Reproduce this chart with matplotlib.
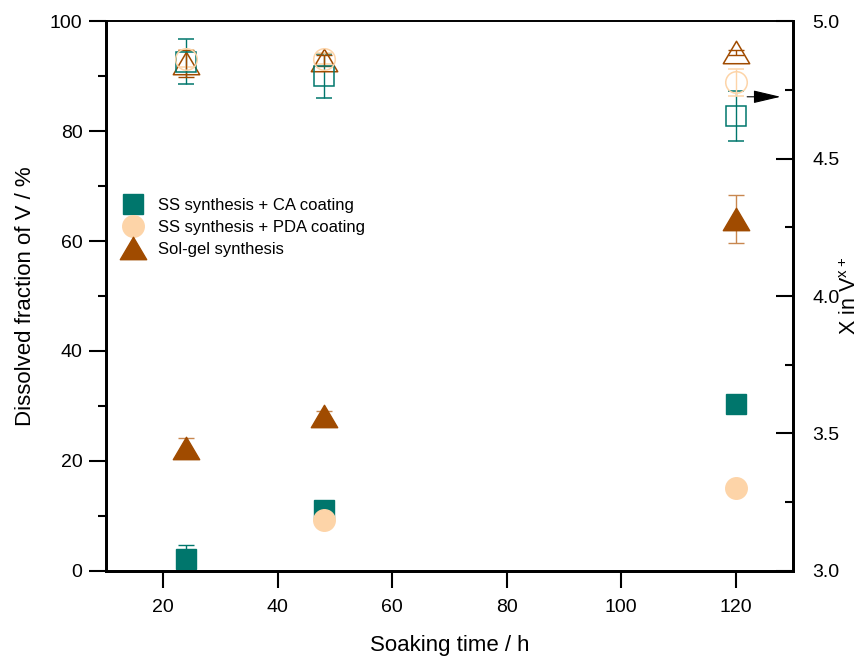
import numpy as np
import matplotlib.pyplot as plt
from matplotlib.lines import Line2D
from matplotlib.path import Path

plt.rcParams['font.family'] = ['Liberation Sans', 'DejaVu Sans']

# soaking times (h)
times = [24, 48, 120]
times_pda = [48, 120]

# dissolved fraction of V (%)  -> left axis, filled markers
ca_diss = [2.2, 11.1, 30.4]
ca_diss_err = [2.5, 1.0, 0.5]
pda_diss = [9.3, 15.1]
pda_diss_err = [0.5, 0.5]
sg_diss = [22.4, 28.1, 64.0]
sg_diss_err = [1.7, 1.0, 4.3]

# x in V^x+  -> right axis, open markers
ca_x = [4.852, 4.800, 4.655]
ca_x_err = [0.082, 0.080, 0.090]
pda_x = [4.864, 4.864, 4.777]
pda_x_err = [0.03, 0.02, 0.05]
sg_x = [4.847, 4.858, 4.887]
sg_x_err = [0.05, 0.02, 0.01]

labels = ['SS synthesis + CA coating', 'SS synthesis + PDA coating', 'Sol-gel synthesis']

teal = '#00766C'
peach = '#FDD4A8'
brown = '#A04B00'
# slightly flattened triangle, closed so the open version draws all edges
tri = Path([(-1, -0.85), (1, -0.85), (0, 0.85), (-1, -0.85)],
           [Path.MOVETO, Path.LINETO, Path.LINETO, Path.CLOSEPOLY])

fig = plt.figure(figsize=(8.62, 6.63), dpi=100)
ax = fig.add_axes([0.123, 0.139, 0.797, 0.829])
ax2 = ax.twinx()

ms_sq, ms_c, ms_t = 14.5, 15.5, 19

# filled: dissolved fraction
ax.errorbar(times, ca_diss, yerr=ca_diss_err, fmt='s', ms=ms_sq, color=teal,
            ecolor=teal, elinewidth=1, capsize=6, capthick=1)
ax.errorbar(times_pda, pda_diss, yerr=pda_diss_err, fmt='o', ms=ms_c, color=peach,
            ecolor=peach, elinewidth=1, capsize=6, capthick=1)
ax.errorbar(times, sg_diss, yerr=sg_diss_err, fmt='none', ecolor='#C8874F',
            elinewidth=1, capsize=6, capthick=1)
ax.plot(times, sg_diss, ls='none', marker=tri, ms=ms_t, color=brown)

# open: x in V^x+
ax2.errorbar(times, ca_x, yerr=ca_x_err, fmt='s', ms=ms_sq, mfc='none', mec=teal,
             mew=1.1, ecolor=teal, elinewidth=1, capsize=6, capthick=1)
ax2.errorbar(times, pda_x, yerr=pda_x_err, fmt='o', ms=ms_c, mfc='none', mec=peach,
             mew=1.1, ecolor=peach, elinewidth=1, capsize=6, capthick=1)
ax2.errorbar(times, sg_x, yerr=sg_x_err, fmt='none', ecolor=brown,
             elinewidth=1, capsize=6, capthick=1)
ax2.plot(times, sg_x, ls='none', marker=tri, ms=ms_t, mfc='none', mec=brown, mew=1.1)

ax2.annotate('', xy=(128.3, 4.725), xytext=(121.5, 4.725),
             arrowprops=dict(arrowstyle='-|>,head_length=1.7,head_width=0.4',
                             color='k', lw=0.8, mutation_scale=10))

ax.set_xlim(10, 130)
ax.set_ylim(0, 100)
ax2.set_ylim(3.0, 5.0)

ax.set_xticks([20, 40, 60, 80, 100, 120])
ax.set_yticks([0, 20, 40, 60, 80, 100])
ax.set_yticks(np.arange(10, 100, 20), minor=True)
ax2.set_yticks([3.0, 3.5, 4.0, 4.5, 5.0])
ax2.set_yticks([3.25, 3.75, 4.25, 4.75], minor=True)

ax.tick_params(axis='x', direction='out', length=12, width=1.5, labelsize=14, pad=8)
ax.tick_params(axis='y', which='major', direction='out', length=12, width=1.5, labelsize=14, pad=5)
ax.tick_params(axis='y', which='minor', direction='out', length=6, width=1.5)
ax2.tick_params(axis='y', which='major', direction='in', length=12, width=1.5, labelsize=14, pad=14)
ax2.tick_params(axis='y', which='minor', direction='in', length=6, width=1.5)

for a in (ax, ax2):
    for s in ('left', 'bottom', 'right'):
        a.spines[s].set_linewidth(2)
    a.spines['top'].set_linewidth(1.2)

ax.set_xlabel('Soaking time / h', fontsize=16, labelpad=14)
ax.set_ylabel('Dissolved fraction of V / %', fontsize=16, labelpad=10)
ax2.set_ylabel('X in V$\\mathregular{^{x+}}$', fontsize=15.5, labelpad=0)

handles = [Line2D([], [], ls='none', marker='s', ms=ms_sq, color=teal),
           Line2D([], [], ls='none', marker='o', ms=ms_c, color=peach),
           Line2D([], [], ls='none', marker=tri, ms=ms_t, color=brown)]
ax.legend(handles, labels, loc='upper left', bbox_to_anchor=(0.0, 0.70), frameon=False,
          fontsize=12, handletextpad=0.6, labelspacing=0.42, handlelength=1.8,
          borderaxespad=0.3)

fig.savefig('out.png', dpi=100)
